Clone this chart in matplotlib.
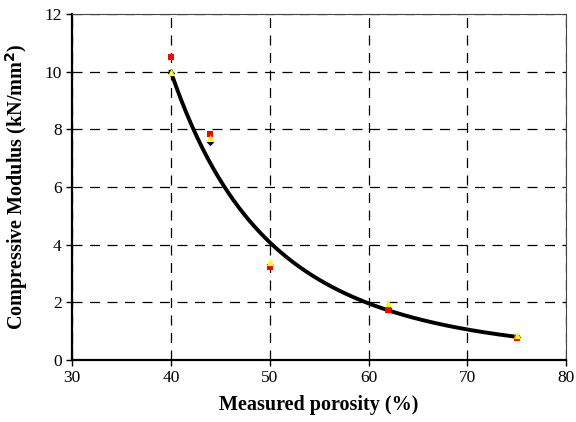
import matplotlib.pyplot as plt
import numpy as np

# porosity (%) and compressive modulus (kN/mm^2) for three sample sets
porosity = [40, 44, 50, 62, 75]
modulus_red = [10.5, 7.85, 3.22, 1.73, 0.77]
modulus_yellow = [10.0, 7.7, 3.4, 1.97, 0.87]
modulus_blue = [9.95, 7.55, 3.3, 1.8, 0.8]

x_ticks = [30, 40, 50, 60, 70, 80]
y_ticks = [0, 2, 4, 6, 8, 10, 12]

plt.rcParams['font.family'] = ['Liberation Serif', 'DejaVu Serif']

fig = plt.figure(figsize=(5.76, 4.22), dpi=100)
ax = fig.add_axes([0.125, 0.147, 0.858, 0.82])

# power-law trendline fitted to all points (like an Excel power trendline)
x_all = np.array(porosity * 3, dtype=float)
y_all = np.array(modulus_red + modulus_yellow + modulus_blue)
b, ln_a = np.polyfit(np.log(x_all), np.log(y_all), 1)
x_fit = np.linspace(min(porosity), max(porosity), 200)
y_fit = np.exp(ln_a) * x_fit ** b

ax.plot(x_fit, y_fit, color='black', lw=2.8, zorder=3)

ax.scatter(porosity, modulus_blue, marker='D', s=14, color='#000080', zorder=4, linewidths=0)
ax.scatter(porosity, modulus_red, marker='s', s=18, color='#ff0000', zorder=5, linewidths=0)
ax.scatter(porosity, modulus_yellow, marker='^', s=26, color='#ffff00', zorder=6, linewidths=0)

ax.set_xlim(30, 80)
ax.set_ylim(0, 12)
ax.set_xticks(x_ticks)
ax.set_yticks(y_ticks)
ax.tick_params(direction='out', length=4, width=1, labelsize=12.5, colors='black')

ax.grid(True, color='black', linestyle=(0, (8, 6)), linewidth=0.9)
ax.set_axisbelow(True)

for side in ['left', 'bottom']:
    ax.spines[side].set_linewidth(1.6)
for side in ['top', 'right']:
    ax.spines[side].set_linewidth(0.8)
    ax.spines[side].set_color('#444444')

ax.set_xlabel('Measured porosity (%)', fontsize=14.5, fontweight='bold', labelpad=6)
ax.set_ylabel('Compressive Modulus (kN/mm$^\\mathbf{2}$)', fontsize=14.5,
              fontweight='bold', labelpad=10)

fig.savefig('out.png', dpi=100)
